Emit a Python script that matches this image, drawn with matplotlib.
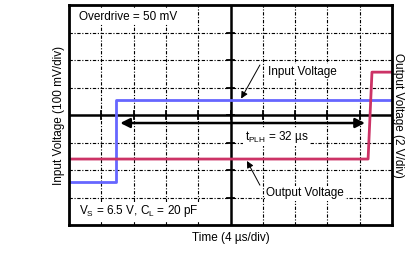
import matplotlib
matplotlib.use("Agg")
from matplotlib import pyplot as plt

plt.rcParams['font.family'] = ['Liberation Sans', 'DejaVu Sans']

# 数据 (单位: 格)
t_in = [-5.0, -3.54, -3.54, 5.0]
v_in = [-2.44, -2.44, 0.55, 0.55]
t_out = [-5.0, 4.26, 4.38, 5.0]
v_out = [-1.6, -1.6, 1.56, 1.56]
blue = "#6666ff"
red = "#cc3366"
fs = 8.5

fig = plt.figure(figsize=(4.06, 2.66), dpi=100)
ax = fig.add_axes([0.17, 0.154, 0.7955, 0.827])
ax.set_xlim(-5, 5)
ax.set_ylim(-4, 4)

# 网格
for gx in range(-4, 5):
    if gx != 0:
        ax.axvline(gx, color="black", lw=0.8, ls=(0, (3, 1.5, 1, 1.5)))
for gy in range(-3, 4):
    if gy != 0:
        ax.axhline(gy, color="black", lw=0.8, ls=(0, (3, 1.5, 1, 1.5)))
ax.axvline(0, color="black", lw=1.8)
ax.axhline(0, color="black", lw=1.8)
# 中心轴上的小刻度
for gx in range(-4, 5):
    ax.plot([gx, gx], [-0.14, 0.14], color="black", lw=1.3)
for gy in range(-3, 4):
    ax.plot([-0.12, 0.12], [gy, gy], color="black", lw=1.3)

ax.plot(t_in, v_in, color=blue, lw=2)
ax.plot(t_out, v_out, color=red, lw=2)

# tPLH 箭头
ax.annotate("", xy=(-3.5, -0.29), xytext=(4.25, -0.29),
            arrowprops=dict(arrowstyle="<|-|>", color="black", lw=1.8, mutation_scale=14))
ax.text(1.42, -0.8, "t$_{\\mathregular{PLH}}$ = 32 µs", ha="center", va="center", fontsize=fs,
        bbox=dict(facecolor="white", edgecolor="none", pad=1))

# 标注
ax.annotate("", xy=(0.33, 0.6), xytext=(0.91, 1.82),
            arrowprops=dict(arrowstyle="-|>", color="black", lw=0.7, mutation_scale=10,
                            shrinkA=0, shrinkB=0))
ax.text(1.15, 1.57, "Input Voltage", fontsize=fs, va="center",
        bbox=dict(facecolor="white", edgecolor="none", pad=1))
ax.annotate("", xy=(0.51, -1.67), xytext=(0.91, -2.55),
            arrowprops=dict(arrowstyle="-|>", color="black", lw=0.7, mutation_scale=10,
                            shrinkA=0, shrinkB=0))
ax.text(1.1, -2.84, "Output Voltage", fontsize=fs, va="center",
        bbox=dict(facecolor="white", edgecolor="none", pad=1))

ax.text(-4.7, 3.57, "Overdrive = 50 mV", fontsize=fs, va="center",
        bbox=dict(facecolor="white", edgecolor="none", pad=1))
ax.text(-4.7, -3.5, "V$_{\\mathregular{S}}$ = 6.5 V, C$_{\\mathregular{L}}$ = 20 pF", fontsize=fs, va="center",
        bbox=dict(facecolor="white", edgecolor="none", pad=1))

ax.set_xticks([])
ax.set_yticks([])
for s in ax.spines.values():
    s.set_linewidth(2)

ax.set_xlabel("Time (4 µs/div)", fontsize=fs, labelpad=5)
ax.set_ylabel("Input Voltage (100 mV/div)", fontsize=fs, labelpad=3)
ax2 = ax.twinx()
ax2.set_yticks([])
ax2.set_ylabel("Output Voltage (2 V/div)", fontsize=fs, rotation=-90, labelpad=9)

plt.savefig("out.png")
